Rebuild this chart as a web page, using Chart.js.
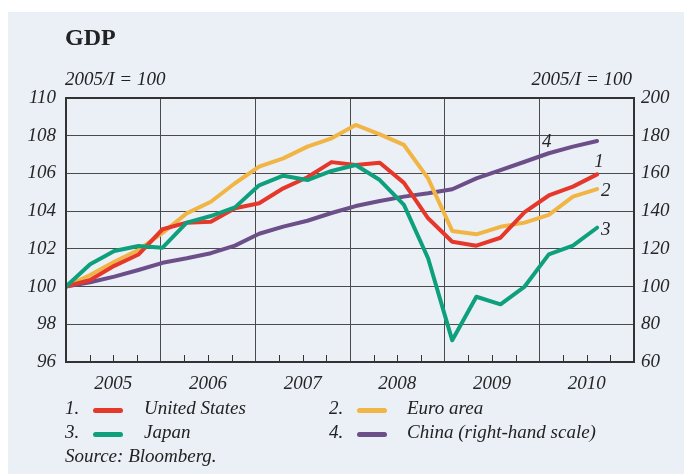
<!DOCTYPE html>
<html>
<head>
<meta charset="utf-8">
<script src="https://cdn.jsdelivr.net/npm/chart.js@4/dist/chart.umd.min.js"></script>
<style>
  html, body { margin:0; padding:0; background:#ffffff; }
  body { width:684px; height:474px; position:relative; overflow:hidden; font-family:"Liberation Serif", "DejaVu Serif", serif; color:#222; }
  #panel { position:absolute; left:8px; top:12px; width:676px; height:462px; background:#ebf0f7; }
  #c { position:absolute; left:0; top:0; }
  .t { position:absolute; white-space:nowrap; }
  .it { font-style:italic; }
  #title { left:65px; top:24px; font-size:24px; font-weight:bold; }
  .unit { top:68px; font-size:19px; font-style:italic; }
  .leg { font-size:19px; font-style:italic; }
  .sw { position:absolute; height:5px; border-radius:3px; }
</style>
</head>
<body>
<div id="panel"></div>
<canvas id="c" width="684" height="474"></canvas>
<div class="t" id="title">GDP</div>
<div class="t unit" style="left:65px;">2005/I = 100</div>
<div class="t unit" style="right:52px;">2005/I = 100</div>

<div class="t leg" style="left:65px; top:397px;">1.</div>
<div class="sw" style="left:93px; top:408px; width:30px; background:#e5382b;"></div>
<div class="t leg" style="left:144px; top:397px;">United States</div>
<div class="t leg" style="left:329px; top:397px;">2.</div>
<div class="sw" style="left:357px; top:408px; width:30px; background:#f1b545;"></div>
<div class="t leg" style="left:407px; top:397px;">Euro area</div>

<div class="t leg" style="left:65px; top:421px;">3.</div>
<div class="sw" style="left:93px; top:432px; width:30px; background:#0ea07c;"></div>
<div class="t leg" style="left:144px; top:421px;">Japan</div>
<div class="t leg" style="left:329px; top:421px;">4.</div>
<div class="sw" style="left:357px; top:432px; width:30px; background:#6c4f88;"></div>
<div class="t leg" style="left:407px; top:421px;">China (right-hand scale)</div>

<div class="t leg" style="left:65px; top:445px;">Source: Bloomberg.</div>

<script>
// ---- Data (quarterly, 2005/I = 100) ----
const years = ['2005', '2006', '2007', '2008', '2009', '2010'];
const unitedStates = [100, 100.35, 101.1, 101.7, 103.04, 103.39, 103.44, 104.15, 104.42, 105.21, 105.8, 106.6, 106.45, 106.57, 105.5, 103.62, 102.38, 102.17, 102.59, 103.95, 104.83, 105.3, 105.95];
const euroArea = [100, 100.61, 101.32, 101.94, 102.85, 103.88, 104.5, 105.48, 106.36, 106.8, 107.42, 107.86, 108.57, 108.07, 107.51, 105.74, 102.95, 102.77, 103.17, 103.39, 103.8, 104.77, 105.17];
const japan = [100, 101.18, 101.89, 102.15, 102.06, 103.39, 103.74, 104.2, 105.37, 105.88, 105.65, 106.13, 106.45, 105.65, 104.33, 101.5, 97.15, 99.46, 99.06, 100.0, 101.71, 102.17, 103.12];
const china = [100, 102.3, 105.3, 108.8, 112.6, 115.0, 117.7, 121.7, 128.0, 131.8, 134.9, 139.0, 142.7, 145.4, 147.7, 149.5, 151.6, 157.4, 161.8, 166.2, 170.7, 174.2, 177.2];
const leftTicks = { min: 96, max: 110, step: 2 };
const rightTicks = { min: 60, max: 200, step: 20 };
const seriesNumbers = ['1', '2', '3', '4'];

// axis span in quarter-index units (six years)
const X_MAX = 23.53;
const YEAR_SPAN = X_MAX / years.length;

const toXY = arr => arr.map((v, i) => ({ x: i, y: v }));

const INK = '#262626';
const GRID = '#4a4a4a';
const FONT = '"Liberation Serif", "DejaVu Serif", serif';

const framePlugin = {
  id: 'frame',
  afterDatasetsDraw(chart) {
    const { ctx, chartArea: a } = chart;
    const xs = chart.scales.x;
    ctx.save();
    // quarter ticks
    ctx.strokeStyle = '#333';
    ctx.lineWidth = 1;
    for (let k = 0; k < years.length; k++) {
      for (let q = 1; q <= 3; q++) {
        const px = Math.round(xs.getPixelForValue((k + q / 4) * YEAR_SPAN)) + 0.5;
        ctx.beginPath();
        ctx.moveTo(px, a.bottom);
        ctx.lineTo(px, a.bottom - 7);
        ctx.stroke();
      }
    }
    // frame
    ctx.strokeStyle = '#333';
    ctx.lineWidth = 2;
    ctx.strokeRect(a.left, a.top, a.right - a.left, a.bottom - a.top);
    // series numbers
    ctx.fillStyle = INK;
    ctx.font = 'italic 19px ' + FONT;
    const place = (dsIndex, ptIndex, dx, dy, align, base) => {
      const meta = chart.getDatasetMeta(dsIndex);
      const p = meta.data[ptIndex];
      ctx.textAlign = align;
      ctx.textBaseline = base;
      ctx.fillText(seriesNumbers[dsIndex], p.x + dx, p.y + dy);
    };
    place(0, unitedStates.length - 1, 2, -3, 'center', 'bottom');
    place(1, euroArea.length - 1, 4, 2, 'left', 'middle');
    place(2, japan.length - 1, 4, 2, 'left', 'middle');
    place(3, 20, -2, -2, 'center', 'bottom');
    ctx.restore();
  }
};

const ds = (label, arr, color, axis, order) => ({
  label, data: toXY(arr), borderColor: color, backgroundColor: color,
  borderWidth: 4, pointRadius: 0, tension: 0, yAxisID: axis, order,
  borderJoinStyle: 'round', borderCapStyle: 'round', fill: false
});

new Chart(document.getElementById('c'), {
  type: 'line',
  data: {
    datasets: [
      ds('United States', unitedStates, '#e5382b', 'y', 1),
      ds('Euro area', euroArea, '#f1b545', 'y', 2),
      ds('Japan', japan, '#0ea07c', 'y', 0),
      ds('China (right-hand scale)', china, '#6c4f88', 'y2', 3)
    ]
  },
  options: {
    responsive: false,
    animation: false,
    devicePixelRatio: 1,
    layout: { padding: { top: 98, left: 0, right: 0, bottom: 0 } },
    plugins: { legend: { display: false }, title: { display: false }, tooltip: { enabled: false } },
    scales: {
      x: {
        type: 'linear', min: 0, max: X_MAX,
        afterBuildTicks(scale) {
          const t = [];
          for (let k = 0; k <= years.length * 2; k++) t.push({ value: k * YEAR_SPAN / 2 });
          scale.ticks = t;
        },
        afterFit(scale) { scale.height = 112; },
        grid: {
          drawTicks: false,
          color: c => (c.index % 2 === 0 ? GRID : 'rgba(0,0,0,0)'),
          lineWidth: 1
        },
        border: { display: false },
        ticks: {
          autoSkip: false, maxRotation: 0, padding: 11, color: INK,
          font: { family: FONT, size: 19, style: 'italic' },
          callback: (v, i) => (i % 2 === 1 ? years[(i - 1) / 2] : '')
        }
      },
      y: {
        position: 'left', min: leftTicks.min, max: leftTicks.max,
        afterFit(scale) { scale.width = 66; },
        grid: { drawTicks: false, color: GRID, lineWidth: 1 },
        border: { display: false },
        ticks: {
          stepSize: leftTicks.step, padding: 10, color: INK,
          font: { family: FONT, size: 19, style: 'italic' }
        }
      },
      y2: {
        position: 'right', min: rightTicks.min, max: rightTicks.max,
        afterFit(scale) { scale.width = 50; },
        grid: { display: false, drawTicks: false },
        border: { display: false },
        ticks: {
          stepSize: rightTicks.step, padding: 7, color: INK,
          font: { family: FONT, size: 19, style: 'italic' }
        }
      }
    }
  },
  plugins: [framePlugin]
});
</script>
</body>
</html>
